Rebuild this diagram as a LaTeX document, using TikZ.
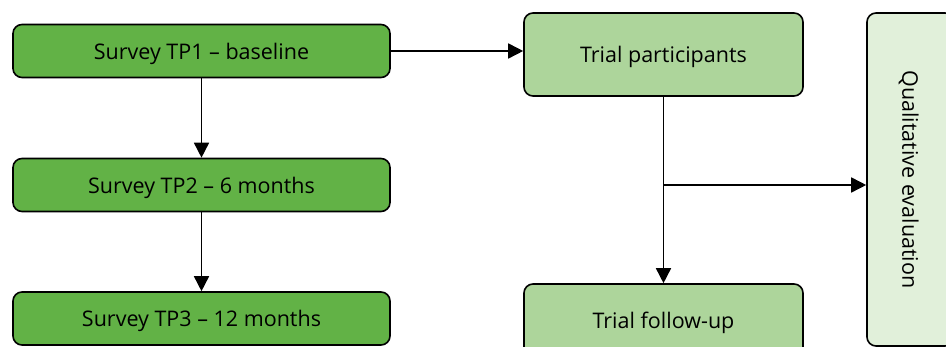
\documentclass[tikz,border=0pt]{standalone}
\usepackage{fontspec}
\setmainfont{Open Sans}
\usetikzlibrary{arrows.meta}
\definecolor{darkgr}{HTML}{62B246}
\definecolor{midgr}{HTML}{ADD59B}
\definecolor{palegr}{HTML}{E1F0DA}
\begin{document}
\begin{tikzpicture}[x=1pt,y=-1pt,
        box/.style={draw=black,line width=1.6pt,rounded corners=9pt,
            inner sep=0pt,align=center,text depth=0pt,
            font=\fontsize{21.5}{25}\selectfont},
        survey/.style={box,fill=darkgr,minimum width=377pt,minimum height=53pt},
        trial/.style={box,fill=midgr,minimum width=279pt},
        arr/.style={line width=1.6pt,-{Triangle[length=15pt,width=15pt]}}]

\useasboundingbox (0,0) rectangle (946,347);

\node[survey] (tp1) at (201.5,51) {Survey TP1 -- baseline};
\node[survey] (tp2) at (201.5,185) {Survey TP2 -- 6 months};
\node[survey] (tp3) at (201.5,318.5) {Survey TP3 -- 12 months};

\node[trial,minimum height=83pt] (part) at (663.5,54.5) {Trial participants};
\node[trial,minimum height=72pt] (fup) at (663.5,320) {Trial follow-up};

\node[box,fill=palegr,minimum width=87pt,minimum height=333pt] (qual) at (910.5,179.5) {};
\node[rotate=-90,text depth=0pt,font=\fontsize{21.5}{25}\selectfont] (qlab) at (qual.center) {Qualitative evaluation};

\draw[arr] (tp1.east) -- (part.west |- tp1.east);
\draw[arr] (tp1) -- (tp2);
\draw[arr] (tp2) -- (tp3);
\draw[arr] (part) -- (fup);
\coordinate (split) at (part.south |- 0,185);
\draw[arr] (split) -- (qual.west |- split);
\end{tikzpicture}
\end{document}
